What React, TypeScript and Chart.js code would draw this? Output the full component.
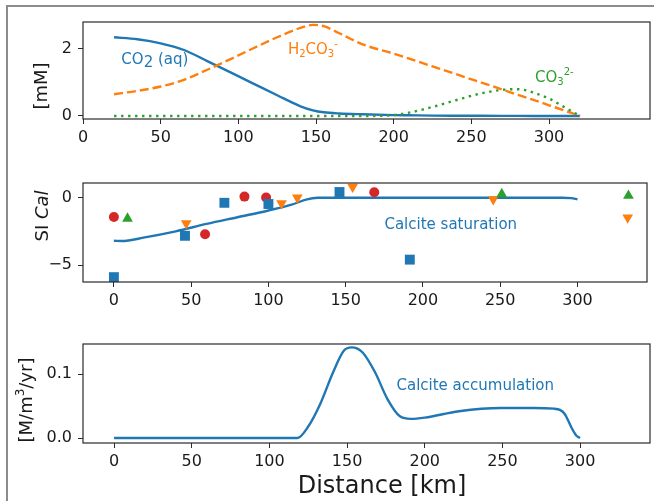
import React, { useEffect, useRef } from 'react';
import { Chart, registerables } from 'chart.js';

Chart.register(...registerables);

const BLUE = '#1f77b4';
const ORANGE = '#ff7f0e';
const GREEN = '#2ca02c';
const RED = '#d62728';
const INK = '#1a1a1a';
const FONT = "'DejaVu Sans', Verdana, sans-serif";

// ---------- Panel 1: carbonate species [mM] vs distance [km]
const specDist = [20, 35, 50, 65, 80, 95, 110, 125, 140, 148, 155, 165, 180, 200, 210, 225, 240, 255, 270, 280, 290, 300, 310, 320];
const co2aq = [2.35, 2.29, 2.17, 1.97, 1.64, 1.3, 0.96, 0.62, 0.29, 0.17, 0.11, 0.075, 0.05, 0.025, 0.02, 0.012, 0.008, 0.005, 0.003, 0.002, 0.001, 0, 0, 0];
const h2co3 = [0.65, 0.75, 0.88, 1.08, 1.38, 1.7, 2.03, 2.35, 2.63, 2.72, 2.68, 2.47, 2.14, 1.86, 1.71, 1.48, 1.25, 1.02, 0.79, 0.63, 0.48, 0.32, 0.16, 0.0];
const co3 = [0, 0, 0, 0, 0, 0, 0, 0, 0, 0, 0, 0, 0, 0.03, 0.1, 0.27, 0.47, 0.66, 0.78, 0.8, 0.7, 0.52, 0.26, 0.0];
const specTicksX = [0, 50, 100, 150, 200, 250, 300];
const specTicksY = [0, 2];

// ---------- Panel 2: calcite saturation index
const siLineDist = [0, 5, 20, 40, 60, 80, 100, 115, 125, 132, 140, 200, 290, 296, 300];
const siLine = [-3.2, -3.22, -2.95, -2.5, -1.95, -1.45, -0.95, -0.52, -0.12, -0.01, 0, 0, 0, -0.03, -0.12];
const sqDist = [0, 46, 71.5, 100, 146, 191.5];
const sqSI = [-5.9, -2.83, -0.38, -0.47, 0.42, -4.6];
const circDist = [0, 59, 84.5, 98.5, 168.5];
const circSI = [-1.43, -2.72, 0.08, 0.02, 0.4];
const upDist = [8.8, 251, 333];
const upSI = [-1.55, 0.27, 0.15];
const downDist = [46.8, 108.5, 118.7, 154.5, 245.5, 332.5];
const downSI = [-1.9, -0.42, 0.0, 0.8, -0.12, -1.47];
const siTicksY = [-5, 0];

// ---------- Panel 3: calcite accumulation [M/m3/yr]
const accDist = [0, 118, 125, 133, 141, 148, 153, 160, 168, 176, 184, 191, 200, 222, 249, 270, 283, 287, 290, 292, 294.5, 297.5, 300];
const accRate = [0, 0, 0.018, 0.055, 0.103, 0.137, 0.142, 0.134, 0.103, 0.061, 0.034, 0.03, 0.032, 0.042, 0.047, 0.047, 0.046, 0.044, 0.038, 0.029, 0.016, 0.004, 0];
const accTicksY = [0, 0.1];
const distTicksX = [0, 50, 100, 150, 200, 250, 300];

type Part = { t: string; size?: number; dy?: number; italic?: boolean };

function drawRich(ctx: CanvasRenderingContext2D, parts: Part[], x: number, y: number, align: string, color: string, base: number) {
  let total = 0;
  const widths = parts.map((p) => {
    ctx.font = `${p.italic ? 'italic ' : ''}${p.size ?? base}px ${FONT}`;
    const w = ctx.measureText(p.t).width;
    total += w;
    return w;
  });
  let cx = align === 'center' ? x - total / 2 : align === 'right' ? x - total : x;
  ctx.fillStyle = color;
  ctx.textBaseline = 'middle';
  ctx.textAlign = 'left';
  parts.forEach((p, i) => {
    ctx.font = `${p.italic ? 'italic ' : ''}${p.size ?? base}px ${FONT}`;
    ctx.fillText(p.t, cx, y + (p.dy ?? 0));
    cx += widths[i];
  });
}

const decorPlugin = {
  id: 'decor',
  afterDatasetsDraw(chart: any, _args: any, opts: any) {
    const { ctx, chartArea: a, scales } = chart;
    ctx.save();
    ctx.strokeStyle = '#2a2a2a';
    ctx.lineWidth = 1.2;
    ctx.strokeRect(a.left, a.top, a.right - a.left, a.bottom - a.top);
    (opts.annots || []).forEach((an: any) => {
      drawRich(ctx, an.parts, scales.x.getPixelForValue(an.x), scales.y.getPixelForValue(an.y), an.align, an.color, an.size);
    });
    (opts.labels || []).forEach((lb: any) => {
      ctx.save();
      ctx.translate(lb.px, lb.py);
      ctx.rotate(lb.rot || 0);
      drawRich(ctx, lb.parts, 0, 0, 'center', INK, lb.size);
      ctx.restore();
    });
    ctx.restore();
  },
};

function fmtMinus(v: number) {
  return v < 0 ? '\u2212' + Math.abs(v) : String(v);
}

function axisX(min: number, max: number, ticks: number[], height: number) {
  return {
    type: 'linear',
    min,
    max,
    afterBuildTicks: (s: any) => {
      s.ticks = ticks.map((v) => ({ value: v }));
    },
    afterFit: (s: any) => {
      s.height = height;
    },
    grid: { display: true, drawOnChartArea: false, drawTicks: true, tickLength: 5, color: '#2a2a2a', lineWidth: 1 },
    border: { display: false },
    ticks: { color: INK, font: { family: FONT, size: 16 }, padding: 4, maxRotation: 0, autoSkip: false, callback: (v: any) => fmtMinus(Number(v)) },
  };
}

function axisY(min: number, max: number, ticks: number[], fmt: (v: number) => string) {
  return {
    type: 'linear',
    min,
    max,
    afterBuildTicks: (s: any) => {
      s.ticks = ticks.map((v) => ({ value: v }));
    },
    afterFit: (s: any) => {
      s.width = 83;
    },
    grid: { display: true, drawOnChartArea: false, drawTicks: true, tickLength: 5, color: '#2a2a2a', lineWidth: 1 },
    border: { display: false },
    ticks: { color: INK, font: { family: FONT, size: 16 }, padding: 6, autoSkip: false, callback: (v: any) => fmt(Number(v)) },
  };
}

const pts = (xs: number[], ys: number[]) => xs.map((x, i) => ({ x, y: ys[i] }));

const baseOpts = (padTop: number) => ({
  responsive: false,
  animation: false,
  devicePixelRatio: 1,
  layout: { padding: { top: padTop, right: 4, left: 0, bottom: 0 } },
});

function makeConfigs() {
  const lineDs = (label: string, xs: number[], ys: number[], color: string, dash: number[], order: number) => ({
    label,
    data: pts(xs, ys),
    borderColor: color,
    backgroundColor: color,
    borderWidth: 2.4,
    borderDash: dash,
    pointRadius: 0,
    cubicInterpolationMode: 'monotone',
    fill: false,
    order,
  });
  const markDs = (label: string, xs: number[], ys: number[], color: string, style: string, radius: number, rot: number) => ({
    label,
    data: pts(xs, ys),
    showLine: false,
    pointStyle: style,
    pointRadius: radius,
    pointRotation: rot,
    pointBackgroundColor: color,
    pointBorderWidth: 0,
    borderColor: color,
    backgroundColor: color,
    order: 0,
  });

  const c1 = {
    type: 'line',
    data: {
      datasets: [
        lineDs('CO2 (aq)', specDist, co2aq, BLUE, [], 2),
        lineDs('H2CO3-', specDist, h2co3, ORANGE, [9, 4], 1),
        lineDs('CO3 2-', specDist, co3, GREEN, [2.4, 4.6], 0),
      ],
    },
    options: {
      ...baseOpts(22),
      plugins: {
        legend: { display: false },
        tooltip: { enabled: false },
        decor: {
          annots: [
            { x: 24.7, y: 1.67, align: 'left', color: BLUE, size: 15, parts: [{ t: 'CO' }, { t: '2', dy: 3 }, { t: ' (aq)' }] },
            { x: 131.9, y: 1.97, align: 'left', color: ORANGE, size: 15, parts: [{ t: 'H' }, { t: '2', size: 10, dy: 4 }, { t: 'CO' }, { t: '3', size: 10, dy: 4 }, { t: '-', size: 10, dy: -6 }] },
            { x: 291, y: 1.125, align: 'left', color: GREEN, size: 15, parts: [{ t: 'CO' }, { t: '3', size: 10, dy: 4 }, { t: '2-', size: 10, dy: -6 }] },
          ],
          labels: [{ px: 42, py: 86, rot: -Math.PI / 2, size: 18, parts: [{ t: '[mM]' }] }],
        },
      },
      scales: { x: axisX(0, 365, specTicksX, 41), y: axisY(-0.09, 2.806, specTicksY, (v) => String(v)) },
    },
    plugins: [decorPlugin],
  };

  const c2 = {
    type: 'line',
    data: {
      datasets: [
        markDs('squares', sqDist, sqSI, BLUE, 'rect', 7, 0),
        markDs('circles', circDist, circSI, RED, 'circle', 5, 0),
        markDs('up', upDist, upSI, GREEN, 'triangle', 6.2, 0),
        markDs('down', downDist, downSI, ORANGE, 'triangle', 6.2, 180),
        { ...lineDs('Calcite saturation', siLineDist, siLine, BLUE, [], 1) },
      ],
    },
    options: {
      ...baseOpts(23),
      plugins: {
        legend: { display: false },
        tooltip: { enabled: false },
        decor: {
          annots: [{ x: 218, y: -2.05, align: 'center', color: BLUE, size: 15, parts: [{ t: 'Calcite saturation' }] }],
          labels: [{ px: 43, py: 56, rot: -Math.PI / 2, size: 18, parts: [{ t: 'SI ' }, { t: 'Cal', italic: true }] }],
        },
      },
      scales: { x: axisX(-20, 345, distTicksX, 39), y: axisY(-6.26, 1.09, siTicksY, fmtMinus) },
    },
    plugins: [decorPlugin],
  };

  const c3 = {
    type: 'line',
    data: {
      datasets: [lineDs('Calcite accumulation', accDist, accRate, BLUE, [], 0)],
    },
    options: {
      ...baseOpts(23),
      plugins: {
        legend: { display: false },
        tooltip: { enabled: false },
        decor: {
          annots: [{ x: 232.5, y: 0.082, align: 'center', color: BLUE, size: 15, parts: [{ t: 'Calcite accumulation' }] }],
          labels: [
            { px: 27, py: 79, rot: -Math.PI / 2, size: 18, parts: [{ t: '[M/m' }, { t: '3', size: 12, dy: -6 }, { t: '/yr]' }] },
            { px: 382, py: 166, rot: 0, size: 24, parts: [{ t: 'Distance [km]' }] },
          ],
        },
      },
      scales: { x: axisX(-20, 345, distTicksX, 58), y: axisY(-0.0078, 0.1473, accTicksY, (v) => v.toFixed(1)) },
    },
    plugins: [decorPlugin],
  };
  return [c1, c2, c3];
}

const PANELS = [
  { top: 0, height: 160 },
  { top: 160, height: 161 },
  { top: 321, height: 180 },
];

export default function App() {
  const r1 = useRef<HTMLCanvasElement>(null);
  const r2 = useRef<HTMLCanvasElement>(null);
  const r3 = useRef<HTMLCanvasElement>(null);

  useEffect(() => {
    const cfgs = makeConfigs();
    const refs = [r1, r2, r3];
    const charts = refs.map((r, i) => new Chart(r.current as HTMLCanvasElement, cfgs[i] as any));
    return () => charts.forEach((c) => c.destroy());
  }, []);

  const refs = [r1, r2, r3];
  return (
    <div style={{ position: 'fixed', left: 0, top: 0, width: 654, height: 501, background: '#fff', overflow: 'hidden' }}>
      <div
        style={{
          position: 'absolute',
          left: 6,
          top: 5,
          width: 700,
          height: 600,
          borderLeft: '2px solid #8c8c8c',
          borderTop: '2px solid #8c8c8c',
        }}
      />
      {PANELS.map((p, i) => (
        <canvas
          key={i}
          ref={refs[i]}
          width={654}
          height={p.height}
          style={{ position: 'absolute', left: 0, top: p.top, width: 654, height: p.height }}
        />
      ))}
    </div>
  );
}
